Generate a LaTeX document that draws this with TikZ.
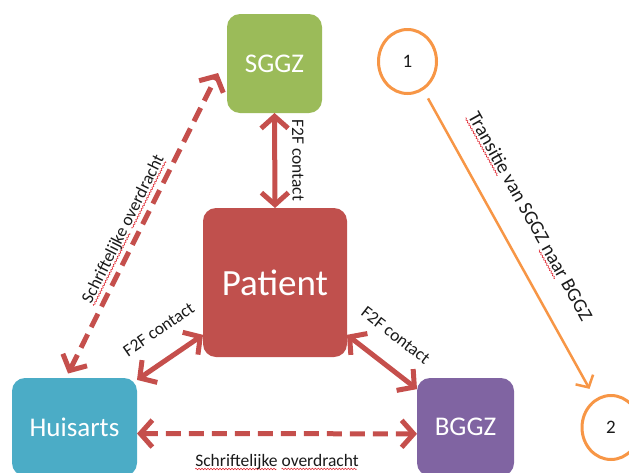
\documentclass[tikz,border=0pt]{standalone}
\usepackage{fontspec}
\setmainfont{Carlito}
\usetikzlibrary{arrows.meta,shapes.geometric}
\definecolor{sggzc}{HTML}{9BBB59}
\definecolor{patc}{HTML}{C0504D}
\definecolor{huisc}{HTML}{4BACC6}
\definecolor{bggzc}{HTML}{8064A2}
\definecolor{orc}{HTML}{F79646}
\definecolor{arrc}{HTML}{C54F4C}
\definecolor{wavered}{HTML}{E0202A}
\definecolor{lbltext}{HTML}{1A1A1A}
\newsavebox\spwavebox
\newsavebox\spwordbox
\newcommand\spellwave[1]{\leavevmode\sbox\spwordbox{#1}%
  \rlap{\raisebox{-3.6pt}{\hbox to \wd\spwordbox{\leaders\copy\spwavebox\hfill}}}\usebox\spwordbox}
\begin{document}
\begin{tikzpicture}[x=1pt,y=-1pt,
  box/.style={rectangle, draw=none, rounded corners=13pt, text=white, inner sep=0pt, outer sep=0pt},
  boxfont/.style={font=\fontsize{27}{32}\selectfont},
  numcircle/.style={ellipse, draw=orc, line width=3pt, minimum width=58pt, minimum height=64pt, inner sep=0pt, outer sep=0pt, text=lbltext, font=\fontsize{19}{22}\selectfont},
  lbl/.style={inner sep=0pt, text=lbltext, font=\fontsize{17.5}{20}\selectfont},
  solidarrow/.style={draw=arrc, line width=5pt, {Straight Barb[length=12pt,width=27pt]}-{Straight Barb[length=12pt,width=27pt]}},
  dasharrow/.style={solidarrow, dash pattern=on 15pt off 8pt},
  orangeline/.style={draw=orc, line width=2.5pt, -{Straight Barb[length=9pt,width=20pt]}}
]
\global\sbox\spwavebox{\tikz[x=1pt,y=1pt]{\useasboundingbox (0,-1) rectangle (3,1);
  \draw[wavered,line width=0.55pt] (0,0) sin (0.75,0.75) cos (1.5,0) sin (2.25,-0.75) cos (3,0);}}%
\useasboundingbox (0,0) rectangle (629,471);
\node[box, boxfont, fill=sggzc, minimum width=95pt, minimum height=99pt] (sggz) at (274.5,62.5) {SGGZ};
\node[box, fill=patc, minimum width=144pt, minimum height=149pt, font=\fontsize{37}{44}\selectfont] (patient) at (275,281.5) {Patient};
\node[box, boxfont, fill=huisc, minimum width=125pt, minimum height=98pt] (huisarts) at (74.5,426) {Huisarts};
\node[box, boxfont, fill=bggzc, minimum width=97pt, minimum height=98pt] (bggz) at (465.5,426) {BGGZ};
\node[numcircle] (c1) at (407.5,60.5) {1};
\node[numcircle] (c2) at (611,426.5) {2};

\draw[solidarrow] (sggz.south) -- node[lbl, midway, sloped, above=15pt] {F2F contact} (patient.north);
\draw[solidarrow] (huisarts.37) -- node[lbl, pos=0.58, sloped, above=21pt] {F2F contact} (patient.216);
\draw[solidarrow] (patient.324) -- node[lbl, pos=0.44, sloped, above=21pt] {F2F contact} (bggz.142);
\draw[dasharrow] (huisarts.-6) -- node[lbl, midway, below=18pt] {\spellwave{Schriftelijke} \spellwave{overdracht}} (bggz.188);
\draw[dasharrow, shorten <=5pt, shorten >=20pt] (huisarts.100) -- node[lbl, pos=0.44, sloped, above=4pt] {\spellwave{Schriftelijke} \spellwave{overdracht}} (sggz.170);
\draw[orangeline, shorten <=11pt, shorten >=13pt] (c1) -- node[lbl, pos=0.46, sloped, above=21pt, font=\fontsize{19.5}{22}\selectfont] {\spellwave{Transitie} van SGGZ \spellwave{naar} BGGZ} (c2);
\end{tikzpicture}
\end{document}
